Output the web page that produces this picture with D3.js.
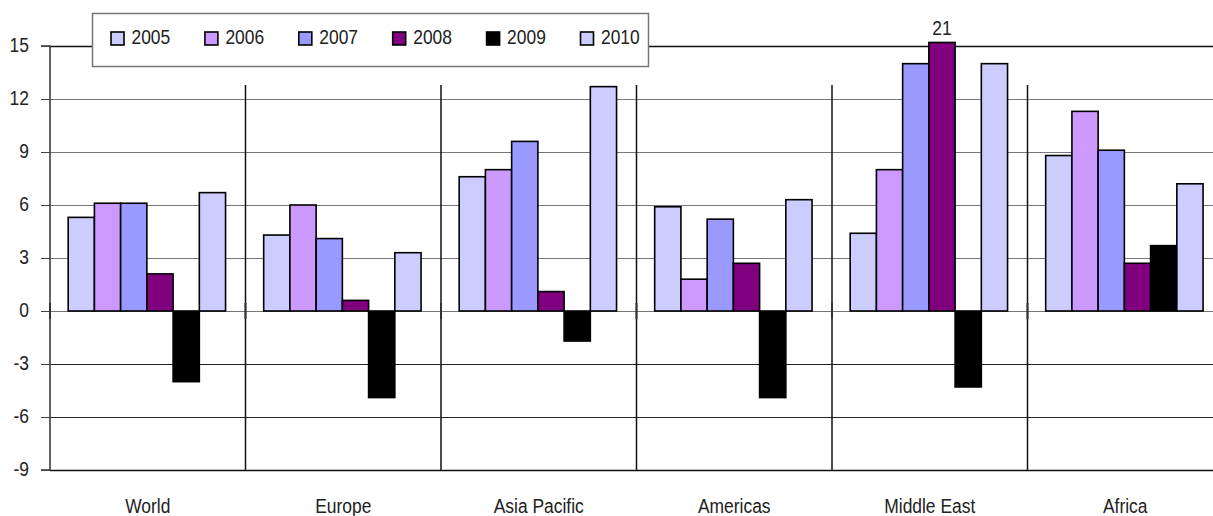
<!DOCTYPE html>
<html><head><meta charset="utf-8">
<script src="https://cdn.jsdelivr.net/npm/d3@7"></script>
<style>
html,body{margin:0;padding:0;background:#fff;}
svg text{font-family:"Liberation Sans",Arial,sans-serif;fill:#222;}
</style>
</head><body>
<svg id="chart" width="1213" height="516"></svg>
<script>
const categories = ["World","Europe","Asia Pacific","Americas","Middle East","Africa"];
const years = ["2005","2006","2007","2008","2009","2010"];
const colors = ["#CCCCFF","#CC99FF","#9999FF","#800080","#000000","#CCCCFF"];
const v2005 = [5.3,4.3,7.6,5.9,4.4,8.8];
const v2006 = [6.1,6.0,8.0,1.8,8.0,11.3];
const v2007 = [6.1,4.1,9.6,5.2,14.0,9.1];
const v2008 = [2.1,0.6,1.1,2.7,21,2.7];
const v2009 = [-4.0,-4.9,-1.7,-4.9,-4.3,3.7];
const v2010 = [6.7,3.3,12.7,6.3,14.0,7.2];
const yTicks = [-9,-6,-3,0,3,6,9,12,15];
const series = [v2005,v2006,v2007,v2008,v2009,v2010];

const SX = 0.83, FS = 21;
const svg = d3.select("#chart");
const L = 50, R = 1223, T = 46, B = 470;
const x = d3.scaleBand().domain(categories).range([L,R]).padding(0);
const bw = x.bandwidth();
const xi = d3.scaleBand().domain(years).range([bw*0.093, bw*(1-0.102)]).padding(0);
const y = d3.scaleLinear().domain([-9,15]).range([B,T]);
const yMaxShown = 15.2;

function ctext(sel, tx, ty, str, anchor){
  return sel.append("text").attr("transform",`translate(${tx},${ty}) scale(${SX},1)`)
    .attr("text-anchor",anchor||"start").attr("font-size",FS).text(str);
}

// gridlines
svg.append("g").selectAll("line").data(yTicks).join("line")
  .attr("x1",L).attr("x2",1213)
  .attr("y1",d=>Math.round(y(d))+0.5).attr("y2",d=>Math.round(y(d))+0.5)
  .attr("stroke",d=> d===15||d===-9 ? "#111" : (d<0 ? "#222" : "#777"))
  .attr("stroke-width",d=> d===15||d===-9 ? 1.5 : 1);

// y axis
const yAxis = d3.axisLeft(y).tickValues(yTicks).tickSize(9).tickPadding(12).tickFormat(d=>String(d));
const ga = svg.append("g").attr("transform",`translate(${L},0)`).call(yAxis);
ga.select(".domain").attr("stroke","#333").attr("stroke-width",1.5).attr("d",`M-9,${y(15)}H0V${y(-9)}H-9`);
ga.selectAll(".tick line").attr("stroke","#444");
ga.selectAll(".tick text").attr("font-size",FS).attr("fill","#222")
  .attr("font-family",'"Liberation Sans",Arial,sans-serif')
  .attr("x",-21/SX).attr("dy","0.24em").attr("transform",`scale(${SX},1)`);

// category dividers
const bounds = categories.slice(1).map(c=>x(c));
svg.append("g").selectAll("line").data(bounds).join("line")
  .attr("x1",d=>d).attr("x2",d=>d).attr("y1",85).attr("y2",B)
  .attr("stroke","#111").attr("stroke-width",1.5);
// small category ticks at zero
svg.append("g").selectAll("line").data([L].concat(bounds)).join("line")
  .attr("x1",d=>d).attr("x2",d=>d).attr("y1",y(0)-8).attr("y2",y(0)+8)
  .attr("stroke","#333").attr("stroke-width",2);

// bars
const g = svg.append("g");
categories.forEach((c,ci)=>{
  years.forEach((yr,si)=>{
    const v = series[si][ci];
    const vs = Math.min(v, yMaxShown);
    const y0 = y(0), y1 = y(vs);
    g.append("rect")
      .attr("x", x(c)+xi(yr)).attr("width", xi.bandwidth())
      .attr("y", Math.min(y0,y1)).attr("height", Math.abs(y1-y0))
      .attr("fill", colors[si]).attr("stroke","#000").attr("stroke-width",1.6);
    if (v > yMaxShown) {
      ctext(svg, x(c)+xi(yr)+xi.bandwidth()/2, y(yMaxShown)-7, String(v), "middle");
    }
  });
});

// category labels
const cl = svg.append("g");
categories.forEach(c=>ctext(cl, x(c)+bw/2, 513, c, "middle"));

// legend
const lg = svg.append("g");
lg.append("rect").attr("x",92.5).attr("y",13.5).attr("width",556).attr("height",53)
  .attr("fill","#fff").attr("stroke","#777").attr("stroke-width",1.5);
const lx = d3.scalePoint().domain(years).range([111, 580.5]);
years.forEach((yr,i)=>{
  lg.append("rect").attr("x",lx(yr)).attr("y",32).attr("width",13).attr("height",13)
    .attr("fill",colors[i]).attr("stroke","#000").attr("stroke-width",1.6);
  ctext(lg, lx(yr)+20.5, 44, yr);
});
</script>
</body></html>
